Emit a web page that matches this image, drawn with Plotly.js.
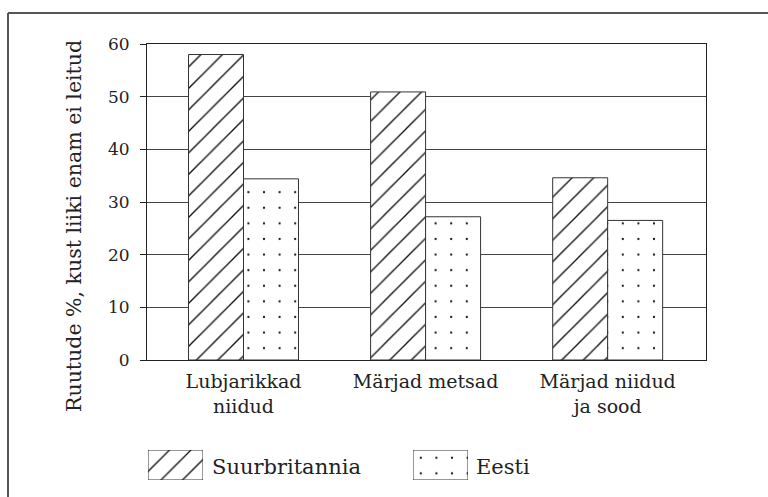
<!DOCTYPE html>
<html>
<head>
<meta charset="utf-8">
<script src="https://cdn.plot.ly/plotly-3.0.1.min.js"></script>
<style>html,body{margin:0;padding:0;background:#fff;}#chart{width:768px;height:497px;}</style>
</head>
<body>
<div id="chart"></div>
<script>
// ---- data ----
const categories = ["Lubjarikkad<br>niidud", "Märjad metsad", "Märjad niidud<br>ja sood"];
const seriesNames = ["Suurbritannia", "Eesti"];
const valuesUK = [58.0, 50.9, 34.6];
const valuesEE = [34.4, 27.2, 26.5];
const yTitle = "Ruutude %, kust liiki enam ei leitud";
const yTicks = [0, 10, 20, 30, 40, 50, 60];

// ---- styles ----
const W = 768, H = 497;
const FONT = "DejaVu Serif, Liberation Serif, serif";
const TXT = "#222";
const px = v => v / W;
const py = v => (H - v) / H;

const hatch = {shape: "/", size: 15.2, solidity: 0.09, fgcolor: "#111", bgcolor: "#fff", fillmode: "replace"};
const dots = {shape: ".", size: 15.6, solidity: 0.016, fgcolor: "#111", bgcolor: "#fff", fillmode: "replace"};
const edge = {color: "#333", width: 1};

const traces = [
  {type: "bar", name: seriesNames[0], x: categories, y: valuesUK, xaxis: "x", yaxis: "y",
   marker: {color: "#fff", pattern: hatch, line: edge}, showlegend: false, hoverinfo: "skip"},
  {type: "bar", name: seriesNames[1], x: categories, y: valuesEE, xaxis: "x", yaxis: "y",
   marker: {color: "#fff", pattern: dots, line: edge}, showlegend: false, hoverinfo: "skip"},
  // legend swatches
  {type: "bar", name: seriesNames[0], x: [seriesNames[0]], y: [1], width: [1], xaxis: "x2", yaxis: "y2",
   marker: {color: "#fff", pattern: hatch, line: edge}, showlegend: false, hoverinfo: "skip"},
  {type: "bar", name: seriesNames[1], x: [seriesNames[1]], y: [1], width: [1], xaxis: "x3", yaxis: "y3",
   marker: {color: "#fff", pattern: dots, line: edge}, showlegend: false, hoverinfo: "skip"}
];

const hidden = {visible: false, fixedrange: true};

const layout = {
  width: W, height: H,
  margin: {l: 0, r: 0, t: 0, b: 0},
  paper_bgcolor: "#fff", plot_bgcolor: "#fff",
  font: {family: FONT, color: TXT},
  barmode: "group", bargap: 0.396, bargroupgap: 0,
  xaxis: {
    domain: [px(147), px(706)], anchor: "y", type: "category", range: [-0.53, 2.54],
    showline: true, mirror: true, linecolor: "#222", linewidth: 1,
    ticks: "", showgrid: false, zeroline: false, ticklabelstandoff: 4,
    tickfont: {family: FONT, size: 19, color: TXT}
  },
  yaxis: {
    domain: [py(360), py(44)], anchor: "x", range: [0, 60], tickvals: yTicks,
    showline: true, mirror: true, linecolor: "#222", linewidth: 1,
    ticks: "outside", ticklen: 6, tickcolor: "#222", tickwidth: 1,
    showgrid: true, gridcolor: "#444", gridwidth: 1, zeroline: false,
    ticklabelstandoff: 7,
    tickfont: {family: FONT, size: 17, color: TXT}
  },
  xaxis2: Object.assign({domain: [px(148), px(203)], anchor: "y2", range: [-0.5, 0.5]}, hidden),
  yaxis2: Object.assign({domain: [py(480), py(450)], anchor: "x2", range: [0, 1]}, hidden),
  xaxis3: Object.assign({domain: [px(413), px(468)], anchor: "y3", range: [-0.5, 0.5]}, hidden),
  yaxis3: Object.assign({domain: [py(480), py(450)], anchor: "x3", range: [0, 1]}, hidden),
  annotations: [
    {text: yTitle, xref: "paper", yref: "paper", x: px(74), y: py(226), textangle: -90,
     xanchor: "center", yanchor: "middle", showarrow: false, font: {family: FONT, size: 20.5, color: TXT}},
    {text: seriesNames[0], xref: "paper", yref: "paper", x: px(210), y: py(467),
     xanchor: "left", yanchor: "middle", showarrow: false, font: {family: FONT, size: 21, color: TXT}},
    {text: seriesNames[1], xref: "paper", yref: "paper", x: px(474), y: py(467),
     xanchor: "left", yanchor: "middle", showarrow: false, font: {family: FONT, size: 21, color: TXT}}
  ],
  shapes: [
    {type: "line", xref: "paper", yref: "paper", x0: px(8), x1: 1.01, y0: py(13), y1: py(13), line: {color: "#555", width: 2}},
    {type: "line", xref: "paper", yref: "paper", x0: px(8), x1: px(8), y0: py(13), y1: -0.02, line: {color: "#555", width: 2}}
  ]
};

Plotly.newPlot("chart", traces, layout, {staticPlot: true, displayModeBar: false});
</script>
</body>
</html>
